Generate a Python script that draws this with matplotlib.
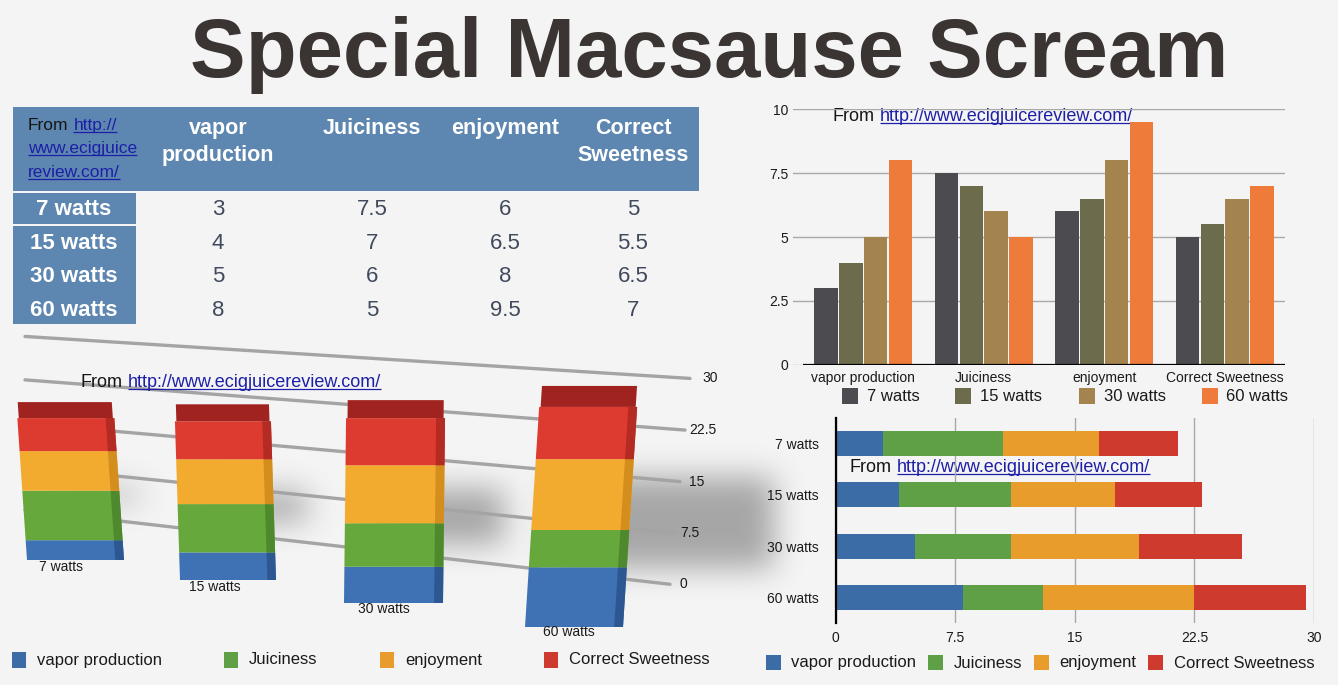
import numpy as np
import matplotlib
matplotlib.use('Agg')
import matplotlib.pyplot as plt
from matplotlib.patches import Rectangle
from matplotlib.transforms import Affine2D

W, H = 1338, 685
plt.rcParams['font.family'] = ['Liberation Sans', 'DejaVu Sans']

# ---------------- data ----------------
title = "Special Macsause Scream"
source = "http://www.ecigjuicereview.com/"
watts = ["7 watts", "15 watts", "30 watts", "60 watts"]
categories = ["vapor production", "Juiciness", "enjoyment", "Correct Sweetness"]
vapor = [3, 4, 5, 8]
juiciness = [7.5, 7, 6, 5]
enjoyment = [6, 6.5, 8, 9.5]
sweetness = [5, 5.5, 6.5, 7]
ticks_grouped = [0, 2.5, 5, 7.5, 10]
ticks_stacked = [0, 7.5, 15, 22.5, 30]

series = [vapor, juiciness, enjoyment, sweetness]

# ---------------- styles ----------------
BG = '#f4f4f4'
TBL_BLUE = '#5d86b0'
VAL_COL = '#404a5c'
LINK = '#1d1fa8'
grp_colors = ['#4b4b50', '#6c6b4b', '#a3844f', '#ef7b3b']
flat_colors = ['#3b6ca6', '#5f9f45', '#e89c2b', '#ce3a2e']
front3d = ['#3f72b5', '#66a83c', '#f3ab2f', '#de3b30']
side3d = ['#2d5791', '#4e8a2d', '#d48e1d', '#b42b23']
top3d = '#a12320'

fig = plt.figure(figsize=(W / 100, H / 100), dpi=100)
fig.patch.set_facecolor(BG)
bg = fig.add_axes([0, 0, 1, 1])
bg.set_xlim(0, W)
bg.set_ylim(H, 0)
bg.axis('off')


def fax(l, t, r, b, z=1):
    a = fig.add_axes([l / W, 1 - b / H, (r - l) / W, (b - t) / H], zorder=z)
    a.patch.set_alpha(0)
    return a


def fmt(v):
    return '%g' % v


# ---------------- title ----------------
bg.text(709.5, 77, title, fontsize=60, fontweight='bold', color='#3a3533',
        ha='center', va='baseline')

# ---------------- table ----------------
bg.add_patch(Rectangle((13, 107), 686, 84, color=TBL_BLUE, lw=0))
bg.add_patch(Rectangle((13, 192.5), 122.5, 31.5, color=TBL_BLUE, lw=0))
bg.add_patch(Rectangle((13, 225.5), 122.5, 98.5, color=TBL_BLUE, lw=0))
col_x = [218, 372, 505, 633]
row_y = [209.5, 243, 276.5, 310]
for j, cat in enumerate(categories):
    bg.text(col_x[j], 117.5, cat.replace(' ', '\n'), ha='center', va='top',
            multialignment='center', color='white', fontsize=15.5,
            fontweight='bold', linespacing=1.42)
for i, w in enumerate(watts):
    bg.text(74, row_y[i], w, ha='center', va='center', color='white',
            fontsize=16, fontweight='bold')
    for j in range(len(categories)):
        bg.text(col_x[j], row_y[i], fmt(series[j][i]), ha='center',
                va='center', color=VAL_COL, fontsize=16)

renderer = fig.canvas.get_renderer()
inv = bg.transData.inverted()


def underline(t, fs):
    bb = t.get_window_extent(renderer)
    (x0, _), (x1, _) = inv.transform([(bb.x0, bb.y0), (bb.x1, bb.y0)])
    xt, yt = t.get_position()
    bg.plot([x0, x1], [yt + fs * 0.14, yt + fs * 0.14], color=LINK, lw=0.9,
            solid_capstyle='butt')


def from_link(x, y, fs, link):
    t = bg.text(x, y, "From", fontsize=fs, color='#151515', va='baseline',
                ha='left')
    bb = t.get_window_extent(renderer)
    xe = inv.transform([(bb.x1, bb.y0)])[0][0]
    space = 0.278 * fs * 100 / 72
    lt = bg.text(xe + space, y, link, fontsize=fs, color=LINK, va='baseline',
                 ha='left')
    underline(lt, fs)


# header link in the table corner
from_link(28, 130, 12.5, source[:7])
for k, (piece, yy) in enumerate([(source[7:20], 153), (source[20:], 177)]):
    t = bg.text(28, yy, piece, fontsize=12.5, color=LINK, va='baseline',
                ha='left')
    underline(t, 12.5)

# ---------------- 3D style stacked chart (left bottom) ----------------
# back wall gridlines (perspective)
def wall_y(v, x):
    return (586 - 6.93 * v) + (x - 685) * (0.115 - 0.00173 * v)


for v in ticks_stacked:
    xe = 670 + v * (20 / 30)
    xs = np.array([25, xe])
    bg.plot(xs, wall_y(v, xs), color='#a4a4a4', lw=2.4, solid_capstyle='round',
            zorder=1)
    bg.text(683 + v * 0.9, wall_y(v, xe), fmt(v), fontsize=10, color='#1a1a1a',
            ha='center', va='center', zorder=1)

# soft shadows behind the bars
bar_left = [27, 180, 344, 525]
bar_w = [97, 96, 99, 98]
bar_base = [560, 580, 603, 627]
bar_scale = [6.6, 6.9, 7.25, 7.46]
bar_lean = [-0.45, -0.22, 0.08, 0.48]
bar_topdepth = [16, 17, 18, 21]
shadow_ext = [15, 30, 60, 150]
totals = [sum(s[i] for s in series) for i in range(len(watts))]

yy, xx = np.mgrid[0:H, 0:W]
shade = np.zeros((H, W))
for i in range(len(watts)):
    top = bar_base[i] - totals[i] * bar_scale[i]
    m = ((xx >= bar_left[i] + bar_w[i] * 0.3)
         & (xx <= bar_left[i] + bar_w[i] + shadow_ext[i])
         & (yy >= top + 70) & (yy <= bar_base[i] - 60))
    shade[m] = 1.0


def box_blur(a, r, axis):
    c = np.cumsum(np.pad(a, [(r + 1, r) if ax_ == axis else (0, 0)
                             for ax_ in range(2)], mode='edge'), axis=axis)
    n = a.shape[axis]
    hi = np.take(c, np.arange(2 * r + 1, 2 * r + 1 + n), axis=axis)
    lo = np.take(c, np.arange(0, n), axis=axis)
    return (hi - lo) / (2 * r + 1)


for _ in range(3):
    shade = box_blur(shade, 14, 0)
    shade = box_blur(shade, 14, 1)
rgba = np.zeros((H, W, 4))
rgba[..., :3] = 0.35
rgba[..., 3] = shade * 0.5
bg.imshow(rgba, extent=(0, W, H, 0), aspect='auto', zorder=0.5,
          interpolation='bilinear')
bg.set_xlim(0, W)
bg.set_ylim(H, 0)

YMAX = 36
for i, w in enumerate(watts):
    sc = bar_scale[i]
    a = fax(bar_left[i], bar_base[i] - sc * YMAX, bar_left[i] + bar_w[i],
            bar_base[i], z=2)
    a.set_xlim(0, 1)
    a.set_ylim(0, YMAX)
    a.axis('off')
    skew = Affine2D(np.array([[1, bar_lean[i] / bar_w[i], 0],
                              [0, 1, 0], [0, 0, 1]]))
    tr = skew + a.transData
    b = 0
    patches = []
    for k in range(len(series)):
        v = series[k][i]
        patches += list(a.bar(0.5, v, bottom=b, width=1, color=front3d[k], lw=0))
        patches += list(a.bar(0.955, v, bottom=b, width=0.09, color=side3d[k],
                              lw=0))
        b += v
    patches += list(a.bar(0.5, bar_topdepth[i] / sc, bottom=b, width=0.97,
                          color=top3d, lw=0))
    for p in patches:
        p.set_transform(tr)
        p.set_clip_on(False)

# category labels under the 3D bars, drawn above the bar axes
label3d_pos = [(61, 567), (215, 587), (384, 609), (569, 632)]
for i, w in enumerate(watts):
    fig.text(*label3d_pos[i], w, fontsize=10, color='#1a1a1a', ha='center',
             va='center', transform=bg.transData, zorder=6)

from_link(81, 387, 13, source)

leg3d_x = [12, 224, 380, 544]
for k, cat in enumerate(categories):
    bg.add_patch(Rectangle((leg3d_x[k], 652), 14, 16, color=flat_colors[k],
                           lw=0))
    bg.text(leg3d_x[k] + 25, 660, cat, fontsize=12, color='#1a1a1a',
            ha='left', va='center')

# ---------------- grouped bar chart (top right) ----------------
ax1 = fax(793, 109, 1285, 365)
ax1.set_xlim(-0.583, 3.5)
ax1.set_ylim(0, 10)
for s in ax1.spines.values():
    s.set_visible(False)
ax1.set_yticks(ticks_grouped, [fmt(t) for t in ticks_grouped])
ax1.set_xticks(range(len(categories)), categories)
ax1.tick_params(length=0, labelsize=10, colors='#1a1a1a')
ax1.tick_params(axis='y', pad=3.5)
ax1.tick_params(axis='x', pad=4.3)
ax1.yaxis.grid(True, color='#a8a8a8', lw=1)
ax1.set_axisbelow(True)
xpos = np.arange(len(categories))
for k, w in enumerate(watts):
    vals = [series[j][k] for j in range(len(categories))]
    ax1.bar(xpos + (k - 1.5) * 0.207, vals, width=0.195, color=grp_colors[k],
            lw=0, zorder=2)
ax1.hlines(0, -0.5, 3.5, color='black', lw=1.6, zorder=3)

from_link(833, 121, 13, source)
leg1_x = [842, 955, 1079, 1201.5]
for k, w in enumerate(watts):
    bg.add_patch(Rectangle((leg1_x[k], 388), 16, 16, color=grp_colors[k], lw=0))
    bg.text(leg1_x[k] + 25, 396, w, fontsize=12, color='#1a1a1a', ha='left',
            va='center')

# ---------------- stacked horizontal bars (bottom right) ----------------
ax2 = fax(835.5, 418, 1314, 623)
ax2.set_xlim(0, 30)
ax2.set_ylim(3.5, -0.5)
for n, s in ax2.spines.items():
    s.set_visible(n == 'left')
ax2.spines['left'].set_linewidth(1.6)
ax2.spines['left'].set_zorder(4)
ax2.set_xticks(ticks_stacked, [fmt(t) for t in ticks_stacked])
ax2.set_yticks(range(len(watts)), watts)
ax2.tick_params(length=0, labelsize=10, colors='#1a1a1a')
ax2.tick_params(axis='x', pad=5.8)
ax2.tick_params(axis='y', pad=12)
ax2.xaxis.grid(True, color='#a8a8a8', lw=1)
ax2.set_axisbelow(True)
left = np.zeros(len(watts))
for k, cat in enumerate(categories):
    ax2.barh(range(len(watts)), series[k], left=left, height=0.49,
             color=flat_colors[k], lw=0, zorder=2)
    left += np.array(series[k])

from_link(849.5, 472, 13, source)
leg2_x = [765.5, 928, 1033.5, 1148]
for k, cat in enumerate(categories):
    bg.add_patch(Rectangle((leg2_x[k], 655), 15, 15, color=flat_colors[k],
                           lw=0))
    bg.text(leg2_x[k] + 25.5, 663, cat, fontsize=12, color='#1a1a1a',
            ha='left', va='center')

fig.savefig('out.png', dpi=100, facecolor=fig.get_facecolor())
